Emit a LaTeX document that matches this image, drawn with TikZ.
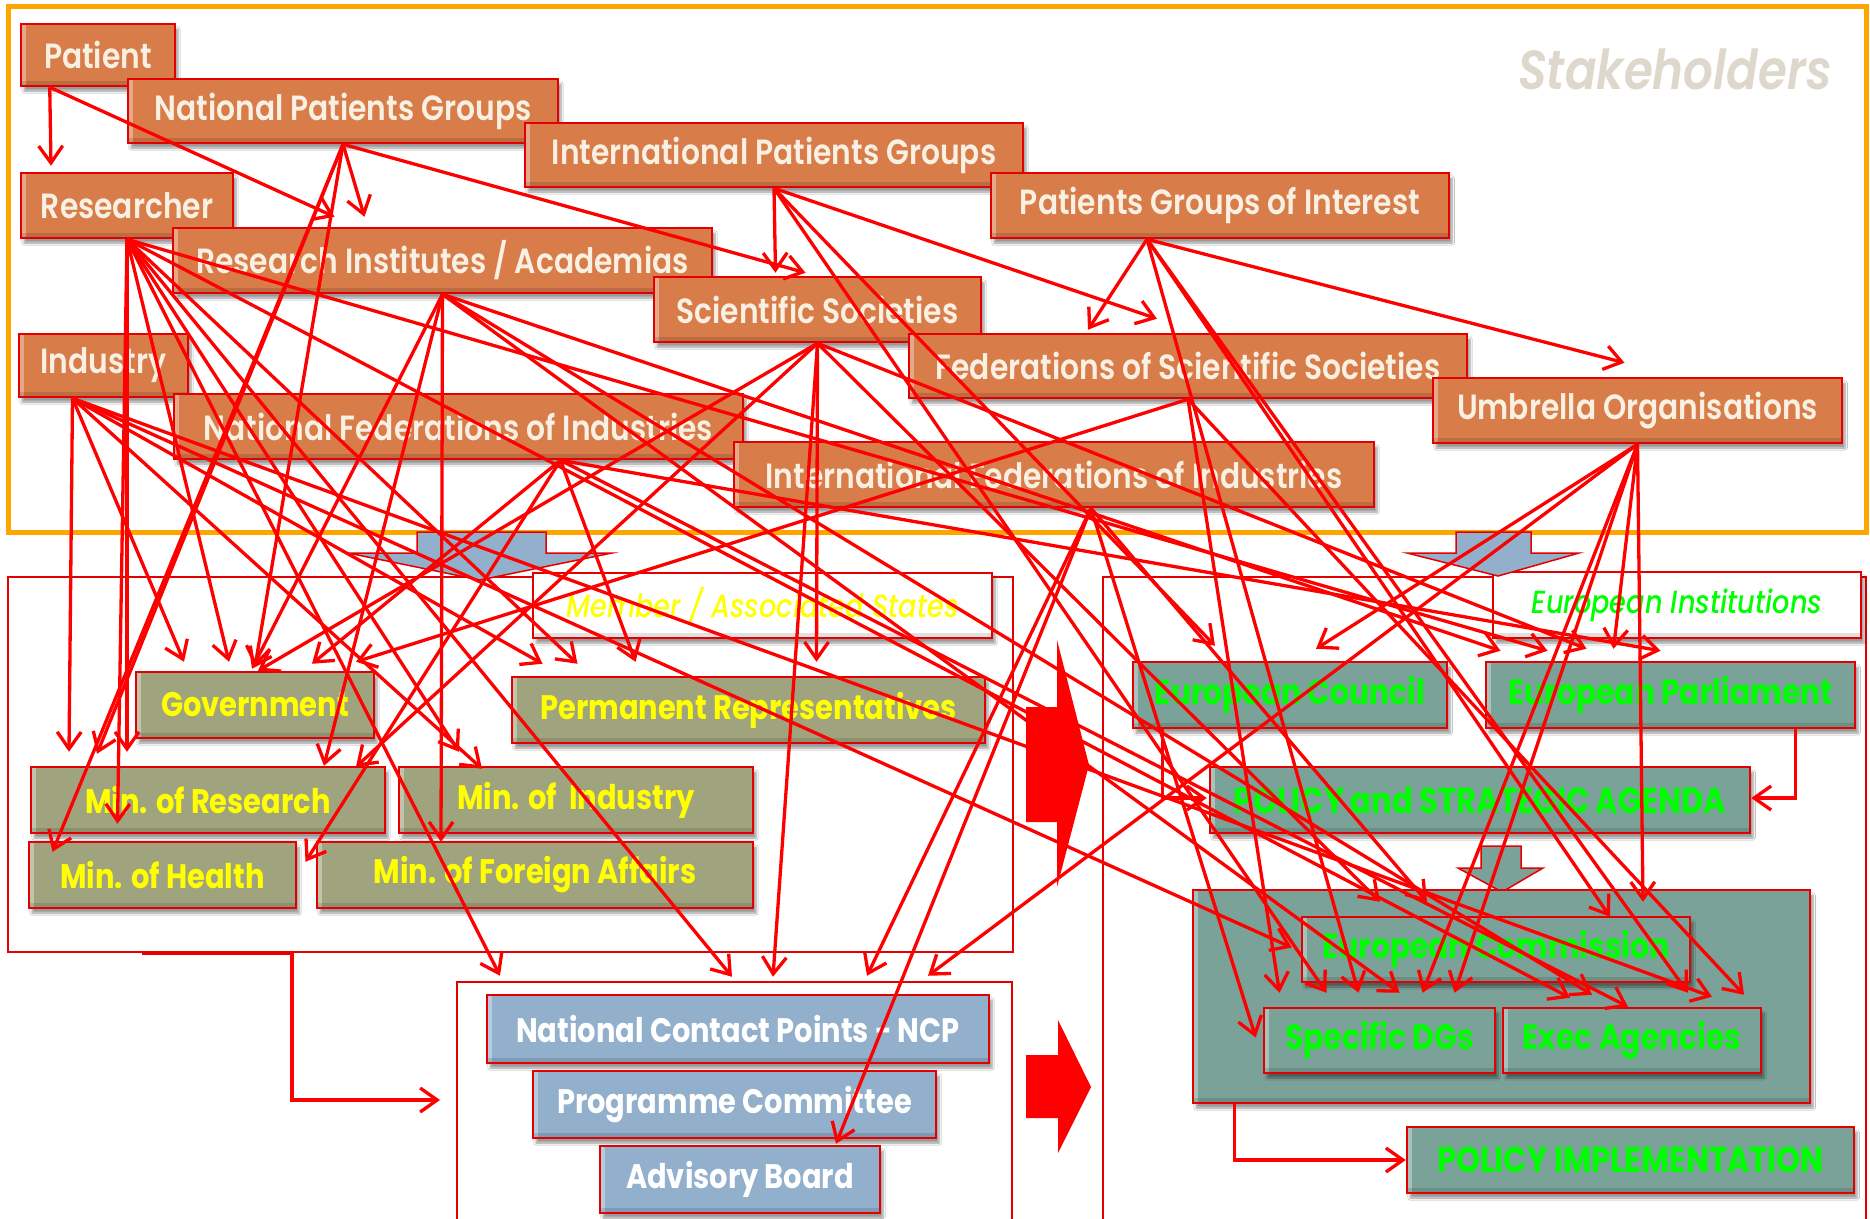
\documentclass[tikz,border=0pt]{standalone}
\usepackage{fontspec}
\setmainfont{Poppins}[FakeStretch=0.85, UprightFont={* SemiBold}, BoldFont={* Bold}, ItalicFont={* Medium Italic}, BoldItalicFont={* SemiBold Italic}]
\usetikzlibrary{calc,arrows.meta,shadows.blur}

\definecolor{stkorange}{RGB}{255,165,0}
\definecolor{boxorange}{RGB}{216,124,74}
\definecolor{boxolive}{RGB}{160,164,126}
\definecolor{boxblue}{RGB}{146,175,204}
\definecolor{boxteal}{RGB}{122,162,152}
\definecolor{cream}{RGB}{248,240,226}
\definecolor{stktext}{RGB}{222,216,204}
\definecolor{edge}{RGB}{228,0,0}
\definecolor{txtgreen}{RGB}{0,255,0}
\definecolor{txtyellow}{RGB}{255,255,0}

\tikzset{
  box/.style={draw=edge, line width=2.5pt, inner sep=0pt,
    blur shadow={shadow xshift=3pt, shadow yshift=-5pt, shadow opacity=40, shadow blur steps=6},
    path picture={
      \fill[white,opacity=.35] (path picture bounding box.north west) rectangle ([xshift=5pt]path picture bounding box.south west);
      \fill[black,opacity=.12] ([yshift=5pt]path picture bounding box.south west) rectangle (path picture bounding box.south east);}},
  orangebox/.style={box, fill=boxorange, text=cream, font=\fontsize{35}{38}\selectfont},
  olivebox/.style={box, fill=boxolive, text=txtyellow, font=\bfseries\fontsize{34}{38}\selectfont},
  bluebox/.style={box, fill=boxblue, text=white, font=\bfseries\fontsize{34}{38}\selectfont},
  tealbox/.style={box, fill=boxteal, text=txtgreen, font=\bfseries\fontsize{35}{38}\selectfont},
  capsfont/.style={font=\bfseries\fontsize{36}{38}\selectfont},
  labelbox/.style={box, fill=white, font=\itshape\fontsize{32}{34}\selectfont},
  panelbox/.style={draw=edge, line width=2pt, inner sep=0pt},
  link/.style={draw=red, line width=3.3pt, -{Straight Barb[length=17pt,width=24pt]}},
  elbow/.style={draw=red, line width=3.3pt, -{Straight Barb[length=17pt,width=24pt]}},
}
\newcommand\lnk[3]{\draw[link] (#1) -- ($(#2)+(#3)$);}

\begin{document}
\begin{tikzpicture}[x=1pt,y=-1pt]
\useasboundingbox (0,0) rectangle (1870,1218);
\fill[white] (0,0) rectangle (1870,1218);

% stakeholder frame
\draw[stkorange, line width=5pt] (8,6) rectangle (1866,532);
\node[text=stktext, font=\bfseries\itshape\fontsize{55}{55}\selectfont] (stk) at (1675,69) {Stakeholders};

% lower panels
\node[panelbox, minimum width=1005pt, minimum height=375pt] (ms) at (510.5,764.5) {};
\node[panelbox, minimum width=555pt, minimum height=270pt] (ncpp) at (734.5,1117) {};
\node[panelbox, minimum width=763pt, minimum height=670pt] (eu) at (1484.5,912) {};
\node[labelbox, text=txtyellow, minimum width=459pt, minimum height=65pt] (msl) at (762.5,605.5) {Member / Associated States};
\node[labelbox, text=txtgreen, minimum width=368pt, minimum height=66pt] (eul) at (1677,605) {European Institutions};

% block arrows between the levels
\filldraw[fill=boxblue, draw=edge, line width=1.5pt] (417,532) -- (546,532) -- (546,553) -- (612,553) -- (480,580) -- (348,553) -- (417,553) -- cycle;
\filldraw[fill=boxblue, draw=edge, line width=1.5pt] (1456,532) -- (1531,532) -- (1531,553) -- (1579,553) -- (1498,576) -- (1407,553) -- (1456,553) -- cycle;
\fill[red] (1026,707) -- (1057,707) -- (1057,640) -- (1089,765) -- (1057,887) -- (1057,822) -- (1026,822) -- cycle;
\fill[red] (1026,1055) -- (1058,1055) -- (1058,1020) -- (1091,1087) -- (1058,1153) -- (1058,1118) -- (1026,1118) -- cycle;
\filldraw[fill=boxteal, draw=edge, line width=1.5pt] (1481,846) -- (1521,846) -- (1521,868) -- (1543,868) -- (1502,892) -- (1458,868) -- (1481,868) -- cycle;

% stakeholders
\node[orangebox, minimum width=154pt, minimum height=62pt] (pat) at (98,55) {Patient};
\node[orangebox, minimum width=430pt, minimum height=64pt] (npg) at (343,111) {National Patients Groups};
\node[orangebox, minimum width=498pt, minimum height=64pt] (ipg) at (774,155) {International Patients Groups};
\node[orangebox, minimum width=458pt, minimum height=65pt] (pgi) at (1220,205.5) {Patients Groups of Interest};
\node[orangebox, minimum width=212pt, minimum height=65pt] (res) at (127,205.5) {Researcher};
\node[orangebox, minimum width=539pt, minimum height=65pt] (ria) at (442.5,260.5) {Research Institutes / Academias};
\node[orangebox, minimum width=327pt, minimum height=65pt] (ss) at (817.5,309.5) {Scientific Societies};
\node[orangebox, minimum width=558pt, minimum height=64pt] (fss) at (1188,366) {Federations of Scientific Societies};
\node[orangebox, minimum width=409pt, minimum height=65pt] (uo) at (1637.5,410.5) {Umbrella Organisations};
\node[orangebox, minimum width=169pt, minimum height=63pt] (ind) at (103.5,365.5) {Industry};
\node[orangebox, minimum width=569pt, minimum height=65pt] (nfi) at (458.5,426.5) {National Federations of Industries};
\node[orangebox, minimum width=640pt, minimum height=65pt] (ifi) at (1054,474.5) {International Federations of Industries};

% member / associated states
\node[olivebox, minimum width=238pt, minimum height=66pt] (gov) at (255,705) {Government};
\node[olivebox, minimum width=473pt, minimum height=66pt] (prep) at (748.5,710) {Permanent Representatives};
\node[olivebox, minimum width=354pt, minimum height=66pt] (mres) at (208,800) {Min. of Research};
\node[olivebox, minimum width=354pt, minimum height=66pt] (mind) at (576,800) {Min. of\ \ Industry};
\node[olivebox, minimum width=267pt, minimum height=66pt] (mhea) at (162.5,875) {Min. of Health};
\node[olivebox, minimum width=436pt, minimum height=66pt] (mfor) at (535,875) {Min. of Foreign Affairs};

% national programme bodies
\node[bluebox, minimum width=502pt, minimum height=68pt] (ncp) at (738,1029) {National Contact Points - NCP};
\node[bluebox, minimum width=403pt, minimum height=67pt] (pc) at (734.5,1104.5) {Programme Committee};
\node[bluebox, minimum width=280pt, minimum height=67pt] (ab) at (740,1179.5) {Advisory Board};

% european institutions
\node[tealbox, minimum width=314pt, minimum height=66pt] (ec) at (1290,695) {European Council};
\node[tealbox, minimum width=369pt, minimum height=66pt] (ep) at (1670.5,695) {European Parliament};
\node[tealbox, capsfont, minimum width=540pt, minimum height=66pt] (agenda) at (1480,800) {POLICY and STRATEGIC AGENDA};
\node[tealbox, minimum width=617pt, minimum height=213pt] (ecbig) at (1501.5,996.5) {};
\node[tealbox, minimum width=388pt, minimum height=65pt] (ecl) at (1496,949.5) {European Commission};
\node[tealbox, minimum width=231pt, minimum height=65pt] (dgs) at (1379.5,1040.5) {Specific DGs};
\node[tealbox, minimum width=258pt, minimum height=65pt] (exa) at (1632,1040.5) {Exec Agencies};
\node[tealbox, capsfont, minimum width=447pt, minimum height=66pt] (pimp) at (1630.5,1160) {POLICY IMPLEMENTATION};

% elbow connectors
\draw[edge, line width=4pt] ($(ms.south west)+(135,0)$) -- ($(ms.south west)+(285,0)$);
\draw[elbow] ($(ms.south west)+(285,0)$) |- ($(ncpp.west)+(-16,-17)$);
\draw[elbow] ($(ec.south west)+(31,0)$) |- ($(agenda.west)+(-2,-2)$);
\draw[elbow] ($(ep.south east)+(-61,0)$) |- ($(agenda.east)+(0,-2)$);
\draw[elbow] ($(ecbig.south west)+(43,0)$) |- (pimp.west);

% where the influence lines leave each stakeholder
\coordinate (sPat) at ($(pat.south west)+(30,0)$);
\coordinate (sNPG) at (npg.south);
\coordinate (sIPG) at (ipg.south);
\coordinate (sPGI) at ($(pgi.south)+(-73,0)$);
\coordinate (sRes) at (res.south);
\coordinate (sRIA) at (ria.south);
\coordinate (sSS) at (ss.south);
\coordinate (sFSS) at (fss.south);
\coordinate (sUO) at (uo.south);
\coordinate (sInd) at ($(ind.south)+(-31,0)$);
\coordinate (sNFI) at ($(nfi.south)+(102,0)$);
\coordinate (sIFI) at ($(ifi.south)+(37,0)$);

% Patient
\lnk{sPat}{res.north}{-76,-6}
\lnk{sPat}{ria.north}{-108,-10}
% National Patients Groups
\lnk{sNPG}{ria.north}{-78,-10}
\lnk{sNPG}{ss.north}{-12,-3}
\lnk{sNPG}{gov.north}{0,-4}
\lnk{sNPG}{mres.north}{-111,-12}
\lnk{sNPG}{mhea.north}{-110,11}
% International Patients Groups
\lnk{sIPG}{ss.north}{-42,-3}
\lnk{sIPG}{fss.north}{-31,-14}
\lnk{sIPG}{ec.north}{-75,-15}
\lnk{sIPG}{dgs.north}{-53,-14}
% Patients Groups of Interest
\lnk{sPGI}{fss.north}{-100,-3}
\lnk{sPGI}{uo.north}{-13,-14}
\lnk{sPGI}{dgs.north}{-21,-14}
\lnk{sPGI}{exa.north}{56,-14}
\lnk{sPGI}{ecl.north}{114,1}
% Researcher
\lnk{sRes}{gov.north}{-26,-9}
\lnk{sRes}{mres.north}{-81,-14}
\lnk{sRes}{mind.north}{-117,-14}
\lnk{sRes}{mhea.north}{-45,-17}
\lnk{sRes}{prep.north}{-171,-12}
\lnk{sRes}{ncp.north}{-238,-18}
\lnk{sRes}{ncp.north}{-6,-17}
\lnk{sRes}{ep.north}{-123,-10}
\lnk{sRes}{exa.north}{-62,-9}
% Research Institutes / Academias
\lnk{sRIA}{gov.north}{-3,-2}
\lnk{sRIA}{mres.north}{116,0}
\lnk{sRIA}{mfor.north}{-94,1}
\lnk{sRIA}{ep.north}{-170,-10}
\lnk{sRIA}{dgs.north}{20,-14}
\lnk{sRIA}{exa.north}{-40,-12}
% Industry
\lnk{sInd}{gov.north}{-71,-9}
\lnk{sInd}{mres.north}{-139,-14}
\lnk{sInd}{mind.north}{-94,3}
\lnk{sInd}{prep.north}{-206,-12}
\lnk{sInd}{ecl.west}{-9,-2}
\lnk{sInd}{exa.north}{80,-10}
% Scientific Societies
\lnk{sSS}{gov.north}{3,0}
\lnk{sSS}{mres.north}{148,1}
\lnk{sSS}{prep.north}{68,-14}
\lnk{sSS}{ncp.north}{35,-17}
\lnk{sSS}{ep.north}{-84,-12}
\lnk{sSS}{ecl.north}{-116,-14}
% National Federations of Industries
\lnk{sNFI}{gov.north}{57,-7}
\lnk{sNFI}{mhea.north}{143,21}
\lnk{sNFI}{prep.north}{-113,-14}
\lnk{sNFI}{ep.north}{-10,-10}
\lnk{sNFI}{exa.north}{-4,0}
% Federations of Scientific Societies
\lnk{sFSS}{gov.north}{101,-9}
\lnk{sFSS}{dgs.north}{-100,-14}
\lnk{sFSS}{exa.north}{112,-12}
% Umbrella Organisations
\lnk{sUO}{ec.north}{26,-12}
\lnk{sUO}{ep.north}{-57,-12}
\lnk{sUO}{ncp.north}{190,-18}
\lnk{sUO}{dgs.north}{43,-14}
\lnk{sUO}{dgs.north}{75,-14}
\lnk{sUO}{ecl.north}{147,-14}
% International Federations of Industries
\lnk{sIFI}{ncp.north}{129,-18}
\lnk{sIFI}{ab.north}{96,-1}
\lnk{sIFI}{dgs.west}{-7,-3}
\lnk{sIFI}{ecl.north}{-69,-14}
\end{tikzpicture}
\end{document}
